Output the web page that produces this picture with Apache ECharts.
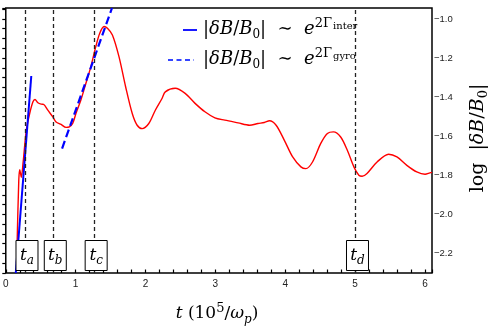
<!DOCTYPE html>
<html><head><meta charset="utf-8">
<script src="https://cdn.jsdelivr.net/npm/echarts@6/dist/echarts.min.js"></script>
<style>html,body{margin:0;padding:0;background:#fff}#c{width:491px;height:329px}</style>
</head><body><div id="c"></div>
<script>
// ---- data ----
const redT = [0.155,0.162,0.186,0.200,0.223,0.247,0.294,0.342,0.389,0.418,0.460,0.507,0.541,0.602,0.673,0.720,0.791,0.862,0.910,0.957,1.004,1.075,1.146,1.217,1.288,1.345,1.407,1.455,1.526,1.620,1.715,1.810,1.880,1.952,2.047,2.140,2.236,2.283,2.425,2.567,2.709,2.850,2.993,3.135,3.325,3.490,3.609,3.700,3.774,3.869,3.987,4.106,4.224,4.295,4.390,4.508,4.603,4.689,4.793,4.888,4.982,5.053,5.100,5.170,5.314,5.479,5.598,5.740,5.882,6.000,6.070,6.100];
const redV = [-2.25,-2.149,-1.826,-1.771,-1.810,-1.738,-1.569,-1.484,-1.424,-1.412,-1.429,-1.436,-1.437,-1.467,-1.501,-1.527,-1.540,-1.555,-1.552,-1.535,-1.484,-1.415,-1.330,-1.245,-1.142,-1.073,-1.039,-1.048,-1.082,-1.193,-1.347,-1.484,-1.544,-1.561,-1.535,-1.467,-1.407,-1.373,-1.355,-1.381,-1.432,-1.475,-1.506,-1.518,-1.532,-1.544,-1.535,-1.530,-1.521,-1.544,-1.621,-1.706,-1.757,-1.766,-1.732,-1.637,-1.586,-1.578,-1.604,-1.672,-1.757,-1.800,-1.805,-1.791,-1.732,-1.692,-1.706,-1.749,-1.783,-1.795,-1.788,-1.785];
const interLine = [[0.143,-2.3],[0.365,-1.292]];
const gyroLine = [[0.806,-1.663],[1.52,-0.944]];
const markTimes = [0.275, 0.68, 1.265, 5.005];
const markSubs = ['a','b','c','d'];
const xTickLabels = ['0','1','2','3','4','5','6'];
const yTickLabels = ['\u22121.0','\u22121.2','\u22121.4','\u22121.6','\u22121.8','\u22122.0','\u22122.2'];

const chart = echarts.init(document.getElementById('c'), null, {renderer:'canvas'});
const serif = 'DejaVu Serif';
const mathRich = (size) => ({
  m: {fontFamily: serif, fontStyle: 'italic', fontSize: size, lineHeight: size + 6, color: '#000'},
  r: {fontFamily: serif, fontSize: size, lineHeight: size + 6, color: '#000'},
  sub: {fontFamily: serif, fontSize: Math.round(size * 0.68), verticalAlign: 'bottom', color: '#000'},
  subi: {fontFamily: serif, fontStyle: 'italic', fontSize: Math.round(size * 0.68), verticalAlign: 'bottom', color: '#000'},
  sup: {fontFamily: serif, fontSize: Math.round(size * 0.74), verticalAlign: 'top', color: '#000'},
  sup2: {fontFamily: serif, fontSize: Math.round(size * 0.58), verticalAlign: 'top', padding: [4, 0, 0, 1], color: '#000'}
});

chart.setOption({
  animation: false,
  grid: {left: 3, right: 59, top: 8, bottom: 56, show: true, borderColor: '#000', borderWidth: 1.5, backgroundColor: 'transparent'},
  xAxis: {
    type: 'value', min: 0, max: 6.1, interval: 0.2,
    axisLine: {show: false},
    axisTick: {show: true, inside: true, length: 3.5, lineStyle: {color: '#000', width: 1.2}},
    splitLine: {show: false},
    axisLabel: {
      margin: 6, fontFamily: 'Liberation Sans', fontSize: 10, color: '#222',
      formatter: v => { const i = Math.round(v); return (Math.abs(v - i) < 1e-6 && xTickLabels[i] !== undefined) ? xTickLabels[i] : ''; }
    }
  },
  yAxis: {
    type: 'value', position: 'right', min: -2.3, max: -0.944, interval: 0.05,
    axisLine: {show: false},
    axisTick: {show: true, inside: true, length: 3.5, lineStyle: {color: '#000', width: 1.2}},
    splitLine: {show: false},
    axisLabel: {
      margin: 2, fontFamily: 'Liberation Sans', fontSize: 9.5, color: '#222',
      formatter: v => { const f = (-1.0 - v) / 0.2; const k = Math.round(f); return (Math.abs(f - k) < 1e-6 && yTickLabels[k] !== undefined) ? yTickLabels[k] : ''; }
    }
  },
  series: [
    {
      type: 'line', data: redT.map((t, i) => [t, redV[i]]), showSymbol: false, smooth: 0.3,
      lineStyle: {color: '#ff0000', width: 1.4}, z: 3,
      markLine: {
        silent: true, symbol: 'none', label: {show: false},
        lineStyle: {color: '#222', type: [4, 3], width: 1.3},
        data: markTimes.map(t => ({xAxis: t}))
      }
    },
    {type: 'line', data: interLine, showSymbol: false, lineStyle: {color: '#0000ff', width: 2}, z: 4},
    {type: 'line', data: gyroLine, showSymbol: false, lineStyle: {color: '#0000ff', width: 2.2, type: [8, 4]}, z: 4}
  ]
});

// annotations derived from the axes
const gridBottom = 329 - 56;
const boxes = [];
markTimes.forEach((t, i) => {
  const px = chart.convertToPixel({xAxisIndex: 0}, t);
  const cx = px + 2;
  boxes.push({
    type: 'rect', z: 100,
    shape: {x: cx - 11, y: gridBottom - 32.5, width: 22, height: 30},
    style: {fill: '#fff', stroke: '#000', lineWidth: 1}
  });
  boxes.push({
    type: 'text', z: 101, x: cx, y: gridBottom - 17.5,
    style: {text: '{m|t}{subi|' + markSubs[i] + '}', rich: mathRich(17), align: 'center', verticalAlign: 'middle'}
  });
});

chart.setOption({
  graphic: boxes.concat([
    {type: 'line', z: 100, shape: {x1: 183, y1: 30, x2: 197, y2: 30}, style: {stroke: '#0000ff', lineWidth: 1.8}},
    {type: 'line', z: 100, shape: {x1: 168, y1: 60, x2: 194, y2: 60}, style: {stroke: '#3344ff', lineWidth: 1.8, lineDash: [5, 3.5]}},
    {type: 'text', z: 100, x: 203, y: 29,
      style: {text: '{r||}{m|δB}{r|/}{m|B}{sub|0}{r||  ∼  }{m|e}{sup|2Γ}{sup2|inter}', rich: mathRich(18), align: 'left', verticalAlign: 'middle'}},
    {type: 'text', z: 100, x: 203, y: 59,
      style: {text: '{r||}{m|δB}{r|/}{m|B}{sub|0}{r||  ∼  }{m|e}{sup|2Γ}{sup2|gyro}', rich: mathRich(18), align: 'left', verticalAlign: 'middle'}},
    {type: 'text', z: 100, x: 217, y: 314,
      style: {text: '{m|t}{r| (10}{sup|5}{r|/}{m|ω}{subi|p}{r|)}', rich: mathRich(17), align: 'center', verticalAlign: 'middle'}},
    {type: 'text', z: 100, x: 478, y: 138, rotation: Math.PI / 2,
      style: {text: '{r|log  |}{m|δB}{r|/}{m|B}{sub|0}{r||}', rich: mathRich(19), align: 'center', verticalAlign: 'middle'}}
  ])
});
</script></body></html>
